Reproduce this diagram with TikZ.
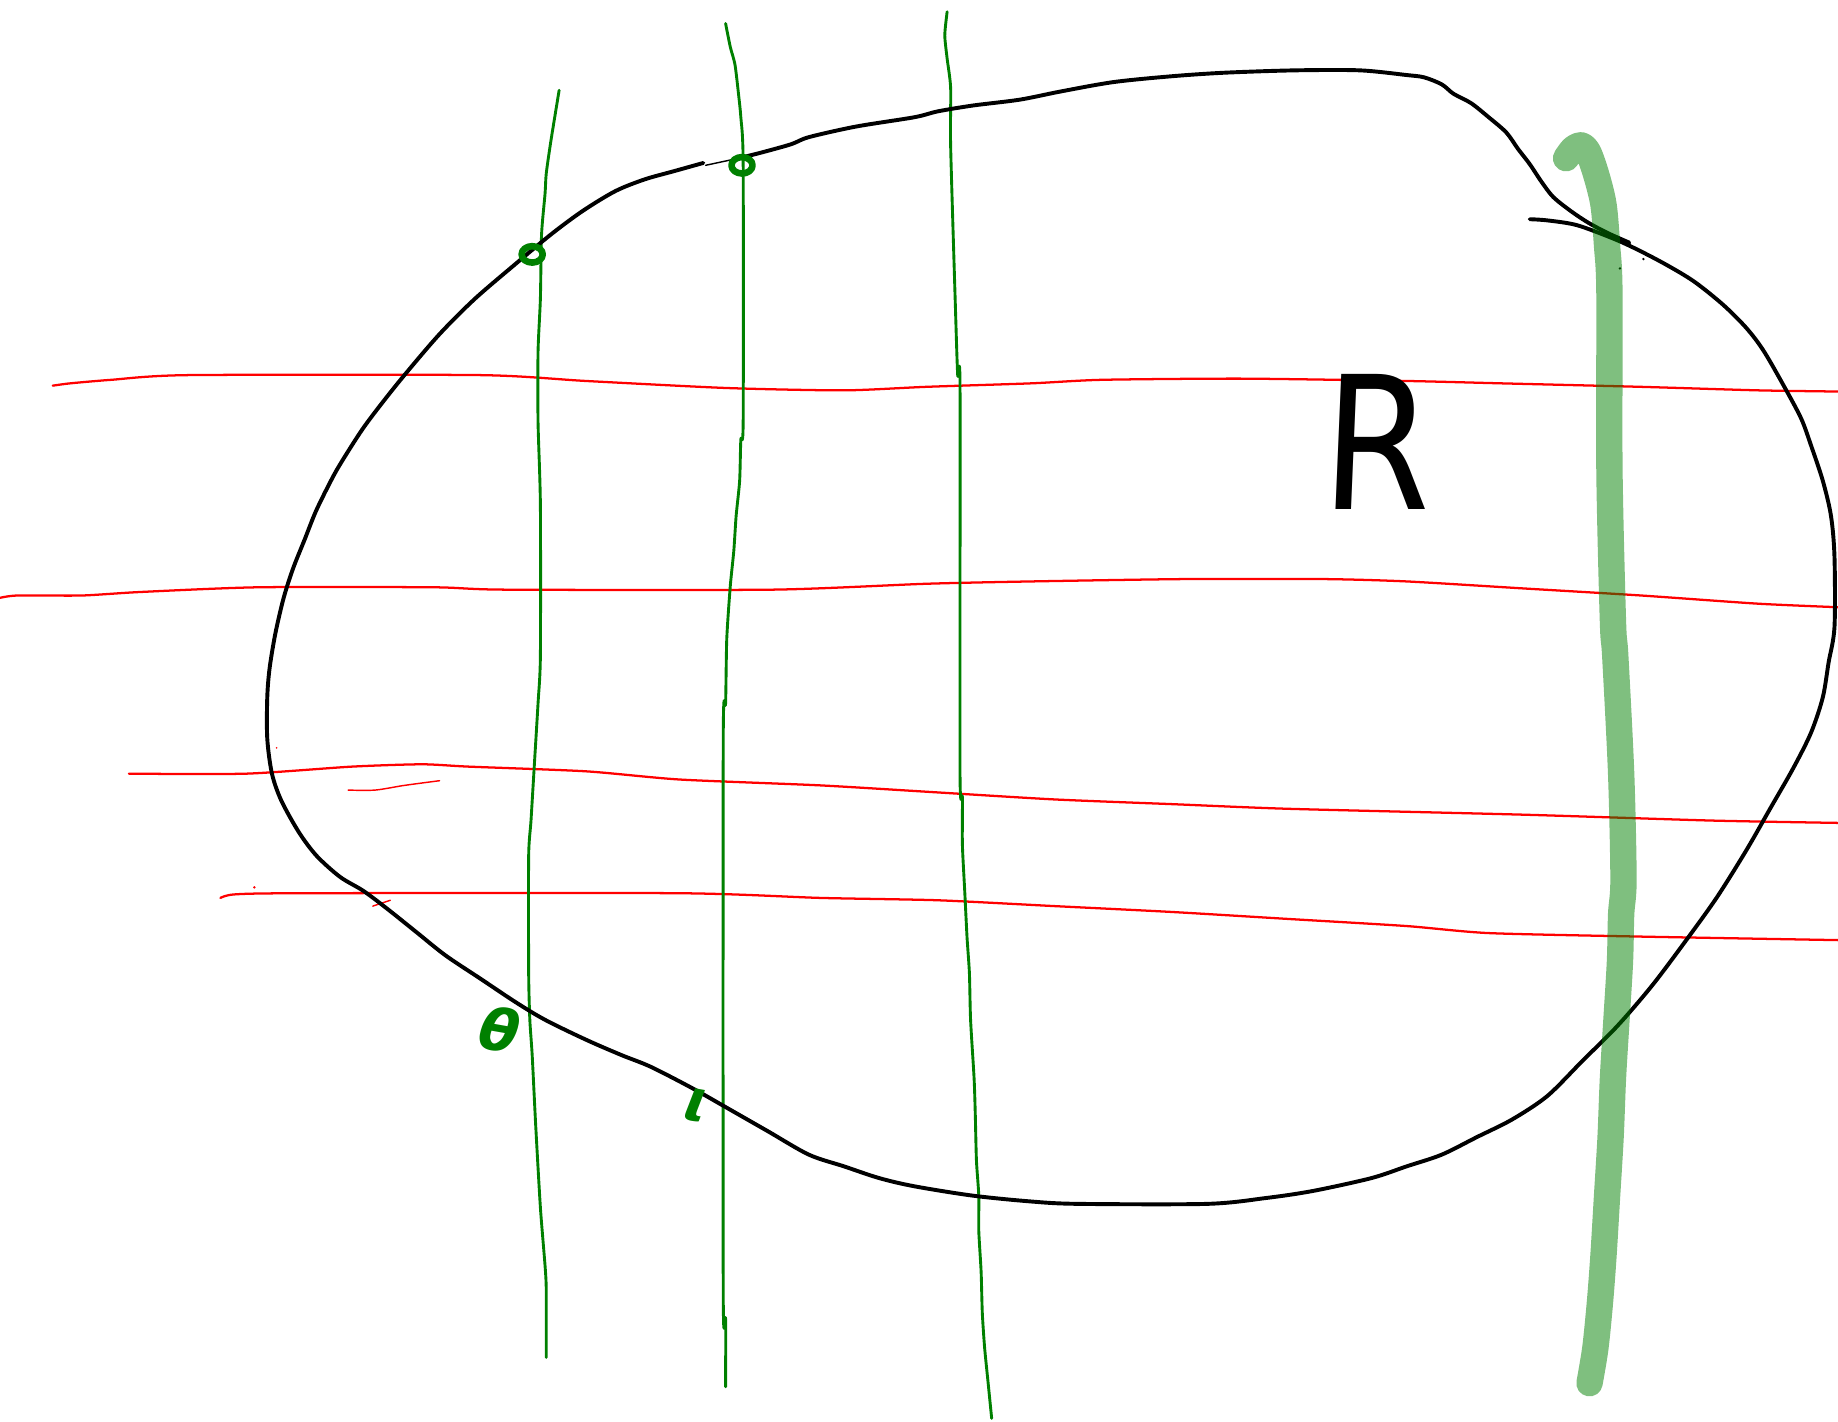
\documentclass[tikz,border=0pt]{standalone}
\usepackage{fontspec}
\newfontfamily\dejavu{DejaVu Sans}
\definecolor{pen}{RGB}{0,0,0}
\definecolor{redpen}{RGB}{255,0,0}
\definecolor{greenpen}{RGB}{0,128,0}
\tikzset{
  blackline/.style={draw=pen,line width=0.95pt,line cap=round,line join=round},
  redline/.style={draw=redpen,line width=0.55pt,line cap=round,line join=round},
  greenline/.style={draw=greenpen,line width=0.7pt,line cap=round,line join=round},
  greenmark/.style={draw=greenpen,line width=1.6pt,line cap=round,line join=round},
  highlight/.style={draw=greenpen,opacity=0.5,line width=6.4pt,line cap=round,line join=round},
  greentext/.style={text=greenpen,font=\dejavu\bfseries\itshape\fontsize{14}{14}\selectfont,inner sep=0pt},
}
\begin{document}
\begin{tikzpicture}[x=0.1mm,y=-0.1mm]
\useasboundingbox (0,0) rectangle (1568,1213);
\fill[white] (0,0) rectangle (1568,1213);

% red horizontal lines
\draw[redline] plot[smooth,tension=0.4] coordinates {(45,329) (60,327) (95,324) (160,320) (410,320) (500,325) (620,331) (720,333) (790,330) (880,327) (940,324) (1060,323) (1200,325) (1280,327) (1400,330) (1500,333) (1568,334)};
\draw[redline] plot[smooth,tension=0.4] coordinates {(0,510) (15,508) (70,508) (120,505) (220,501) (370,501) (430,503) (660,503) (790,498) (880,496) (1010,494) (1130,494) (1200,496) (1300,502) (1400,508) (1500,515) (1568,518)};
\draw[redline] plot[smooth,tension=0.4] coordinates {(110,660) (210,660) (300,654) (360,652) (400,654) (500,658) (580,665) (700,670) (800,676) (900,682) (1000,686) (1100,690) (1300,695) (1460,700) (1568,702)};
\draw[redline] plot[smooth,tension=0.4] coordinates {(188,766) (200,763) (255,762) (580,762) (700,766) (800,768) (900,773) (1000,778) (1100,784) (1200,790) (1270,796) (1400,799) (1568,802)};
\draw[redline,line width=0.35pt] plot[smooth] coordinates {(297,674) (320,674) (345,670) (375,666)};
\draw[redline,line width=0.35pt] (318,773) -- (333,768);
\fill[redpen] (236,638) circle (0.8);
\fill[redpen] (217,757) circle (1.1);

% green thin vertical lines
\draw[greenline] plot[smooth,tension=0.4] coordinates {(477,77) (470,120) (466,148) (465,165) (462,200) (461,255) (459,300) (459,360) (461,430) (461,560) (459,600) (456,650) (453,700) (451,730) (451,830) (452,870) (454,900) (457,960) (461,1030) (465,1080) (466,1100) (466,1158)};
\draw[greenline] plot[smooth,tension=0.4] coordinates {(619,20) (623,40) (627,55) (630,80) (632,100) (634,140) (634,360) (632,375) (631,410) (628,440) (626,470) (623,500) (620,545) (619,600) (617,630) (617,1105) (619,1125) (619,1183)};
\draw[greenline] plot[smooth,tension=0.4] coordinates {(808,10) (806,30) (808,50) (811,75) (811,125) (815,260) (817,320) (819,330) (819,660) (821,680) (821,720) (823,760) (825,800) (827,830) (828,870) (831,920) (832,950) (833,990) (835,1020) (835,1050) (837,1085) (838,1120) (840,1150) (843,1180) (846,1210)};

% black closed outline
\draw[blackline] plot[smooth,tension=0.5] coordinates {(1305,187) (1320,188) (1345,192) (1375,203) (1395,212) (1420,225) (1445,240) (1470,260) (1490,280) (1505,300) (1525,335) (1537,358) (1545,380) (1555,410) (1562,440) (1565,475) (1565,535) (1560,565) (1555,595) (1545,625) (1530,655) (1510,690) (1490,725) (1465,765) (1440,800) (1410,840) (1380,875) (1350,905) (1320,935) (1290,955) (1260,970) (1230,985) (1200,995) (1170,1005) (1120,1016) (1080,1022) (1030,1027) (920,1027) (880,1025) (830,1020) (780,1012) (750,1005) (720,995) (690,985) (655,965) (620,945) (590,928) (555,910) (530,900) (500,887) (465,870) (440,855) (410,835) (380,815) (355,795) (330,775) (310,760) (290,748) (270,730) (255,710) (240,683) (232,660) (228,630) (228,595) (230,570) (235,540) (242,510) (250,485) (260,460) (270,435) (285,405) (297,385) (310,365) (325,345) (345,320) (375,285) (405,255) (440,225) (470,200) (497,180) (525,163) (550,153) (575,146) (600,139)};
\draw[blackline,line width=0.35pt] (602,141) -- (630,135);
\draw[blackline] plot[smooth,tension=0.5] coordinates {(630,135) (650,130) (675,123) (690,117) (730,108) (780,100) (800,95) (830,90) (870,85) (905,78) (950,70) (1000,65) (1045,62) (1105,60) (1160,60) (1200,64) (1215,66) (1230,72) (1240,80) (1255,88) (1270,100) (1285,113) (1295,127) (1305,140) (1315,155) (1325,168) (1340,180) (1355,190) (1372,199) (1390,207)};
\fill[pen] (1382,229) circle (1.1);
\fill[pen] (1402,221) circle (1.1);

% green circle marks
\draw[greenmark] (454,217) ellipse (9 and 7);
\draw[greenmark] (633,141) ellipse (9 and 7);

% green handwritten letters
\node[greentext,rotate=-10] (theta) at (426,878) {θ};
\node[greentext,rotate=-10] (iota) at (594,943) {ι};

% letter R
\node[inner sep=0pt,font=\dejavu\fontsize{45}{45}\selectfont,xscale=0.85,xslant=0.05] (R) at (1176,377) {R};

% green highlighter stroke
\draw[highlight] plot[smooth,tension=0.5] coordinates {(1336,135) (1342,127) (1349,124) (1355,130) (1362,150) (1368,175) (1371,210) (1373,250) (1373,400) (1376,530) (1378,560) (1383,660) (1385,750) (1383,780) (1382,820) (1379,870) (1376,920) (1374,970) (1371,1020) (1368,1070) (1365,1110) (1361,1150) (1356,1180)};
\end{tikzpicture}
\end{document}
